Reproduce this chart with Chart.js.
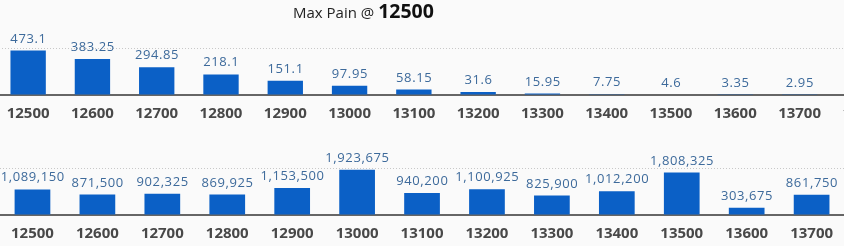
<!DOCTYPE html>
<html>
<head>
<meta charset="utf-8">
<script src="https://cdn.jsdelivr.net/npm/chart.js@4.4.1/dist/chart.umd.min.js"></script>
<style>
  body { margin: 0; background: #fafafa; }
  #wrap { position: relative; width: 844px; height: 246px; overflow: hidden; }
  .box { position: absolute; height: 133px; }
  #title { position: absolute; left: 293px; top: 0; line-height: 22px; font-family: "Open Sans", sans-serif; font-size: 15px; color: #222; white-space: nowrap; }
  #title b { font-size: 19.5px; font-weight: 700; color: #111; }
</style>
</head>
<body>
<div id="wrap">
  <div class="box" style="left:-4px; top:0; width:900px;"><canvas id="painGraph"></canvas></div>
  <div class="box" style="left:0; top:120px; width:909px;"><canvas id="oiGraph"></canvas></div>
  <div id="title">Max Pain @ <b>12500</b></div>
</div>
<script>
// strikes (last one is cut off at the right edge)
const strikes = ['12500', '12600', '12700', '12800', '12900', '13000', '13100', '13200', '13300', '13400', '13500', '13600', '13700', '13800'];
const painValues = [473.1, 383.25, 294.85, 218.1, 151.1, 97.95, 58.15, 31.6, 15.95, 7.75, 4.6, 3.35, 2.95, null];
const oiValues = [1089150, 871500, 902325, 869925, 1153500, 1923675, 940200, 1100925, 825900, 1012200, 1808325, 303675, 861750, null];

// value labels above bars
const barLabels = {
    id: 'barLabels',
    afterDatasetsDraw(chart, args, opts) {
        const ctx = chart.ctx;
        ctx.save();
        ctx.font = '13px "Open Sans"';
        ctx.letterSpacing = '0.6px';
        ctx.fillStyle = '#3d6a9b';
        ctx.textAlign = 'center';
        ctx.textBaseline = 'alphabetic';
        const data = chart.data.datasets[0].data;
        chart.getDatasetMeta(0).data.forEach((bar, i) => {
            if (data[i] == null) return;
            ctx.fillText(opts.format(data[i]), bar.x + 0.3, bar.y - 8);
        });
        ctx.restore();
    }
};

function makeChart(id, values, max, fmt) {
    return new Chart(document.getElementById(id), {
        type: 'bar',
        data: {
            labels: strikes,
            datasets: [{
                data: values,
                backgroundColor: '#0b60c6',
                categoryPercentage: 1,
                barPercentage: 0.55
            }]
        },
        plugins: [barLabels],
        options: {
            responsive: true,
            maintainAspectRatio: false,
            animation: false,
            layout: { padding: { top: 48, bottom: 0, left: 0, right: 0 } },
            plugins: {
                legend: { display: false },
                tooltip: { enabled: false },
                barLabels: { format: fmt }
            },
            scales: {
                x: {
                    grid: { display: false, drawTicks: false },
                    border: { color: '#666', width: 2 },
                    ticks: {
                        padding: 10,
                        color: '#484848',
                        font: { family: 'Open Sans', size: 15, weight: 'bold' }
                    }
                },
                y: {
                    min: 0,
                    max: max,
                    ticks: { display: false, stepSize: max },
                    grid: {
                        drawTicks: false,
                        color: c => c.tick && c.tick.value === 0 ? 'rgba(0,0,0,0)' : '#c8c8c8'
                    },
                    border: { display: false, dash: [1, 2] }
                }
            }
        }
    });
}

makeChart('painGraph', painValues, 500, v => String(v));
makeChart('oiGraph', oiValues, 2000000, v => v.toLocaleString('en-US'));
</script>
</body>
</html>
